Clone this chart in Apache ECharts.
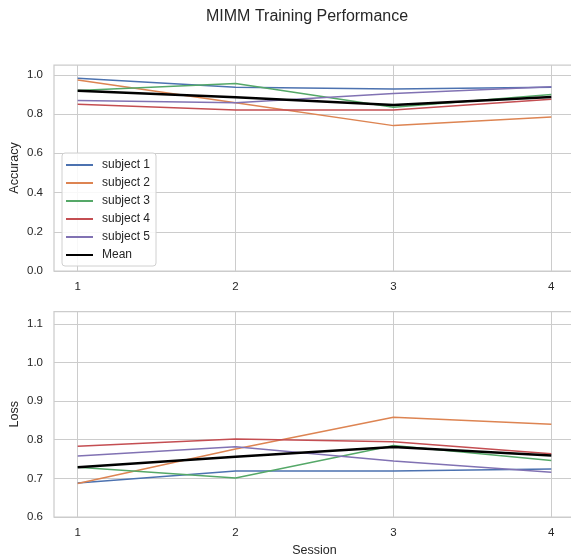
<!DOCTYPE html>
<html>
<head>
<meta charset="utf-8">
<script src="https://cdn.jsdelivr.net/npm/echarts@6/dist/echarts.min.js"></script>
<style>html,body{margin:0;padding:0;background:#fff;}#c{width:571px;height:560px;}</style>
</head>
<body>
<div id="c"></div>
<script>
const sessions = [1, 2, 3, 4];
const subjectNames = ['subject 1', 'subject 2', 'subject 3', 'subject 4', 'subject 5'];
const accS1 = [0.983, 0.937, 0.928, 0.937];
const accS2 = [0.974, 0.858, 0.741, 0.785];
const accS3 = [0.920, 0.956, 0.835, 0.900];
const accS4 = [0.850, 0.821, 0.821, 0.876];
const accS5 = [0.869, 0.857, 0.905, 0.939];
const accMean = [0.919, 0.886, 0.846, 0.887];
const lossS1 = [0.688, 0.719, 0.719, 0.724];
const lossS2 = [0.687, 0.776, 0.858, 0.840];
const lossS3 = [0.729, 0.701, 0.785, 0.746];
const lossS4 = [0.783, 0.802, 0.795, 0.764];
const lossS5 = [0.758, 0.782, 0.745, 0.716];
const lossMean = [0.729, 0.756, 0.781, 0.759];
const accTicks = [0, 0.2, 0.4, 0.6, 0.8, 1.0];
const lossTicks = [0.6, 0.7, 0.8, 0.9, 1.0, 1.1];

const colors = ['#4c72b0', '#dd8452', '#55a868', '#c44e52', '#8172b3'];
const accAll = [accS1, accS2, accS3, accS4, accS5];
const lossAll = [lossS1, lossS2, lossS3, lossS4, lossS5];
const font = 'Liberation Sans, Arial, sans-serif';
const txt = '#262626';
const gridC = '#cccccc';

function pairs(arr) { return sessions.map((s, i) => [s, arr[i]]); }

const series = [];
subjectNames.forEach((n, i) => {
  series.push({name: n, type: 'line', xAxisIndex: 0, yAxisIndex: 0, data: pairs(accAll[i]),
    symbol: 'none', lineStyle: {color: colors[i], width: 1.5}, itemStyle: {color: colors[i]}});
});
series.push({name: 'Mean', type: 'line', xAxisIndex: 0, yAxisIndex: 0, data: pairs(accMean),
  symbol: 'none', lineStyle: {color: '#000', width: 2.5}, itemStyle: {color: '#000'}});
subjectNames.forEach((n, i) => {
  series.push({name: n, type: 'line', xAxisIndex: 1, yAxisIndex: 1, data: pairs(lossAll[i]),
    symbol: 'none', lineStyle: {color: colors[i], width: 1.5}, itemStyle: {color: colors[i]}});
});
series.push({name: 'Mean', type: 'line', xAxisIndex: 1, yAxisIndex: 1, data: pairs(lossMean),
  symbol: 'none', lineStyle: {color: '#000', width: 2.5}, itemStyle: {color: '#000'}});

function xAxis(idx, name) {
  return {
    type: 'value', gridIndex: idx, min: 0.85, max: 4.15,
    name: name, nameLocation: 'middle', nameGap: 27, nameMoveOverlap: false,
    nameTextStyle: {fontFamily: font, fontSize: 12.5, color: txt},
    axisLine: {show: false}, axisTick: {show: false, customValues: sessions},
    axisLabel: {customValues: sessions, fontFamily: font, fontSize: 11.5, color: txt, margin: 10},
    splitLine: {show: true, lineStyle: {color: gridC, width: 1}}
  };
}
function yAxis(idx, name, min, max, ticks) {
  return {
    type: 'value', gridIndex: idx, min: min, max: max,
    name: name, nameLocation: 'middle', nameGap: 33, nameMoveOverlap: false,
    nameTextStyle: {fontFamily: font, fontSize: 12.5, color: txt},
    axisLine: {show: false}, axisTick: {show: false, customValues: ticks},
    axisLabel: {customValues: ticks, fontFamily: font, fontSize: 11.5, color: txt, margin: 11,
      formatter: v => v.toFixed(1)},
    splitLine: {show: true, lineStyle: {color: gridC, width: 1}}
  };
}

const chart = echarts.init(document.getElementById('c'), null, {renderer: 'canvas'});
chart.setOption({
  animation: false,
  backgroundColor: '#fff',
  title: {text: 'MIMM Training Performance', left: 201, top: 4,
    textStyle: {fontFamily: font, fontSize: 16, fontWeight: 'normal', color: txt}},
  legend: {
    data: subjectNames.concat(['Mean']), orient: 'vertical', left: 62, top: 153,
    icon: 'rect', itemWidth: 27, itemHeight: 2, itemGap: 4,
    padding: [5, 6, 4, 4], backgroundColor: 'rgba(255,255,255,0.85)',
    borderColor: '#d0d0d0', borderWidth: 1, borderRadius: 3,
    textStyle: {fontFamily: font, fontSize: 12, lineHeight: 14, color: txt, padding: [0, 0, 0, 4]}
  },
  grid: [
    {left: 54, top: 65, width: 521, height: 206, show: true, borderColor: gridC, borderWidth: 1.25,
      backgroundColor: '#fff', outerBoundsMode: 'none', containLabel: false},
    {left: 54, top: 311.5, width: 521, height: 205.5, show: true, borderColor: gridC, borderWidth: 1.25,
      backgroundColor: '#fff', outerBoundsMode: 'none', containLabel: false}
  ],
  xAxis: [xAxis(0, ''), xAxis(1, 'Session')],
  yAxis: [yAxis(0, 'Accuracy', 0, 1.05, accTicks), yAxis(1, 'Loss', 0.6, 1.132, lossTicks)],
  series: series
});
</script>
</body>
</html>
